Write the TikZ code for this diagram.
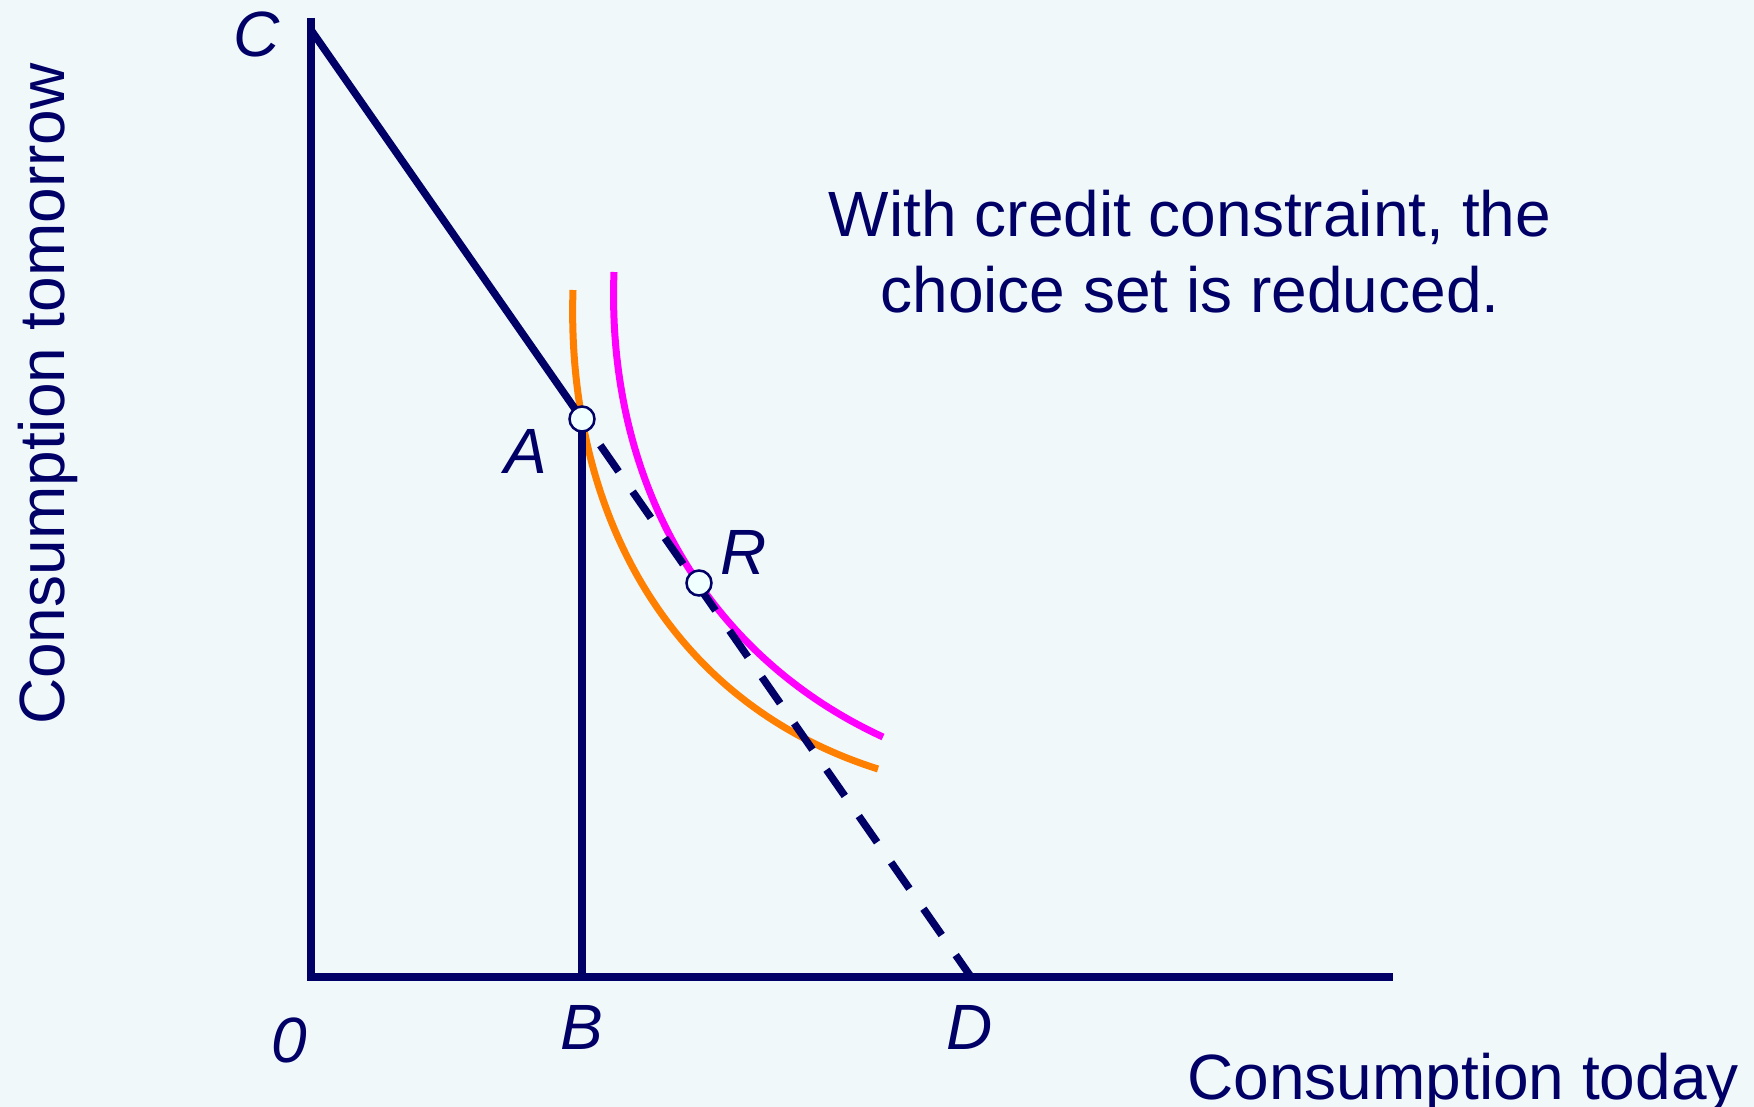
\documentclass[tikz,border=0pt]{standalone}
\usepackage{fontspec}
\setmainfont{Liberation Sans}
\begin{document}
\definecolor{bgc}{RGB}{240,248,250}
\definecolor{navy}{RGB}{0,0,102}
\definecolor{orangec}{RGB}{255,128,0}
\definecolor{magentac}{RGB}{255,0,255}
\definecolor{dotfill}{RGB}{240,255,255}
\begin{tikzpicture}[x=1pt,y=-1pt,
  every node/.style={font=\fontsize{64}{76}\selectfont, text=navy, inner sep=0pt},
  lbl/.style={font=\fontsize{64}{76}\selectfont\itshape, anchor=base},
  navyline/.style={draw=navy, line width=7.5pt},
  dashline/.style={draw=navy, line width=7.5pt, dash pattern=on 32pt off 24.5pt, dash phase=24.5pt},
  icurve/.style={line width=7pt},
  dot/.style={circle, draw=navy, fill=dotfill, line width=2.5pt, minimum size=25pt, inner sep=0pt}]
\fill[bgc] (0,0) rectangle (1754,1107);
\useasboundingbox (0,0) rectangle (1754,1107);
% coordinates
\coordinate (Ytop) at (311,18);
\coordinate (O) at (311,977);
\coordinate (Xend) at (1393,977);
\coordinate (C) at (311,30);
\coordinate (A) at (582,419);
\coordinate (B) at (582,977);
\coordinate (D) at (971,977);
\coordinate (R) at (699,583);
% indifference curves
\draw[orangec, icurve] (573,290) .. controls (566,500) and (660,700) .. (878,769);
\draw[magentac, icurve] (614,272) .. controls (606,480) and (705,655) .. (883,737);
% axes and budget lines
\draw[navyline, line join=miter] (Ytop) -- (O) -- (Xend);
\draw[navyline] (C) -- (A);
\draw[navyline] (A) -- (B);
\draw[dashline] (A) -- (D);
% points
\node[dot] (pA) at (A) {};
\node[dot] (pR) at (R) {};
% labels
\node[lbl] (lC) at (257,57) {C};
\node[lbl] (lA) at (526,473) {A};
\node[lbl] (lR) at (744,574) {R};
\node[lbl] (l0) at (289,1062) {0};
\node[lbl] (lB) at (582,1049) {B};
\node[lbl] (lD) at (970,1049) {D};
\node[anchor=base east] (xlab) at (1739,1099) {Consumption today};
\node[rotate=90, anchor=base] (ylab) at (64,394) {Consumption tomorrow};
\node[align=center] (note) at (1190,252) {With credit constraint, the\\choice set is reduced.};
\end{tikzpicture}
\end{document}
